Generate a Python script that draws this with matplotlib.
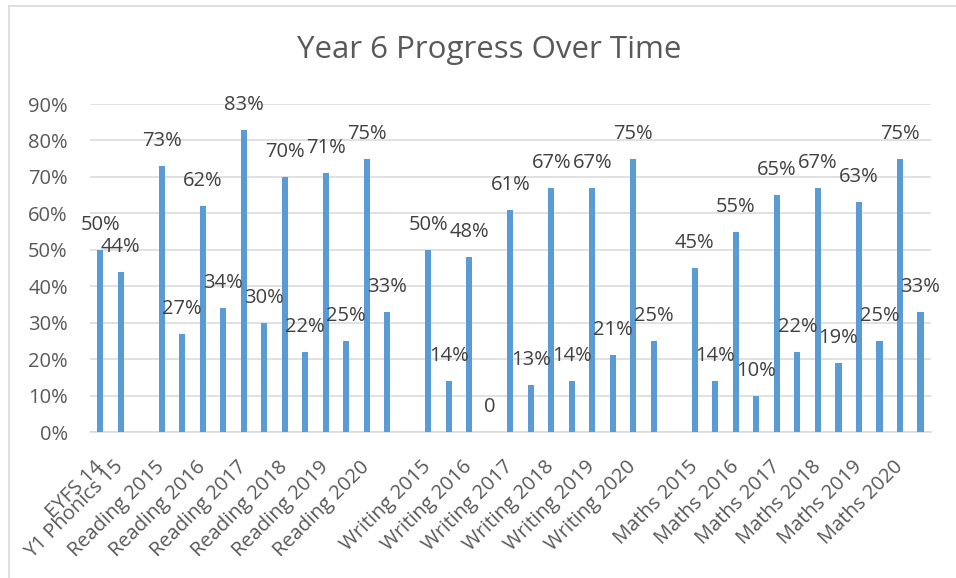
import matplotlib
matplotlib.use("Agg")
import matplotlib.pyplot as plt
from matplotlib.lines import Line2D

categories = [
    "EYFS 14", "Y1 Phonics 15", "",
    "Reading 2015", "", "Reading 2016", "", "Reading 2017", "",
    "Reading 2018", "", "Reading 2019", "", "Reading 2020", "", "",
    "Writing 2015", "", "Writing 2016", "", "Writing 2017", "",
    "Writing 2018", "", "Writing 2019", "", "Writing 2020", "", "",
    "Maths 2015", "", "Maths 2016", "", "Maths 2017", "",
    "Maths 2018", "", "Maths 2019", "", "Maths 2020", "",
]
values = [
    0.50, 0.44, None,
    0.73, 0.27, 0.62, 0.34, 0.83, 0.30, 0.70, 0.22, 0.71, 0.25, 0.75, 0.33, None,
    0.50, 0.14, 0.48, 0.0, 0.61, 0.13, 0.67, 0.14, 0.67, 0.21, 0.75, 0.25, None,
    0.45, 0.14, 0.55, 0.10, 0.65, 0.22, 0.67, 0.19, 0.63, 0.25, 0.75, 0.33,
]
y_ticks = [i / 10 for i in range(10)]
y_tick_labels = [f"{i * 10}%" for i in range(10)]
title = "Year 6 Progress Over Time"

plt.rcParams['font.family'] = ['Open Sans', 'DejaVu Sans']

W, H = 956, 578
fig = plt.figure(figsize=(W / 100, H / 100), dpi=100)
ax = fig.add_axes([90 / W, 1 - 432 / H, (930.7 - 90) / W, (432 - 104) / H])

x = list(range(len(categories)))
heights = [v if v is not None else 0 for v in values]
ax.bar(x, heights, width=0.3, color='#5B9BD5', zorder=3)

ax.set_xlim(-0.5, len(categories) - 0.5)
ax.set_ylim(0, 0.9)
ax.set_yticks(y_ticks)
ax.set_yticklabels(y_tick_labels)
ax.yaxis.grid(True, color='#D9D9D9', linewidth=1.1, zorder=0)
ax.set_axisbelow(True)

ax.set_xticks(x)
ax.set_xticklabels(categories, rotation=45, ha='right', va='center',
                   rotation_mode='anchor')
ax.tick_params(axis='x', length=0, pad=23, labelsize=14.5, labelcolor='#595959')
ax.tick_params(axis='y', length=0, pad=16, labelsize=14.5, labelcolor='#595959')

for s in ['top', 'right', 'left']:
    ax.spines[s].set_visible(False)
ax.spines['bottom'].set_color('#D9D9D9')
ax.spines['bottom'].set_linewidth(1.1)

for i, v in enumerate(values):
    if v is None:
        continue
    txt = "0" if v == 0 else f"{round(v * 100)}%"
    ax.annotate(txt, (i, v), xytext=(0, 18), textcoords='offset points',
                ha='center', va='center', fontsize=14.5, color='#404040',
                zorder=4)

fig.text(489 / W, 1 - 58 / H, title, ha='center', va='baseline',
         fontsize=22.5, color='#595959')

fig.add_artist(Line2D([8.5 / W, 8.5 / W], [0, 1 - 5.5 / H],
                      transform=fig.transFigure, color='#D9D9D9', lw=1.2))
fig.add_artist(Line2D([8.5 / W, 1], [1 - 5.5 / H, 1 - 5.5 / H],
                      transform=fig.transFigure, color='#D9D9D9', lw=1.2))

fig.savefig("out.png", dpi=100)
